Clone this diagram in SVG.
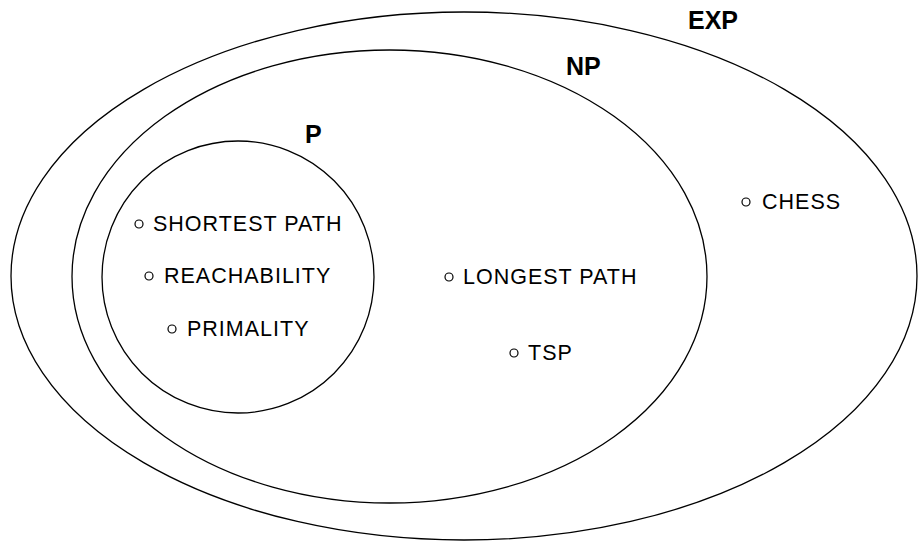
<svg xmlns="http://www.w3.org/2000/svg" width="918" height="541" viewBox="0 0 918 541">
  <style>
    .set { fill: none; stroke: #000; stroke-width: 1.3; }
    .dot { fill: none; stroke: #000; stroke-width: 1.2; }
    .item { font-family: "Liberation Sans", Arial, sans-serif; font-size: 21.5px; letter-spacing: 1px; fill: #000; }
    .cls { font-family: "Liberation Sans", Arial, sans-serif; font-size: 25px; font-weight: bold; fill: #000; }
  </style>
  <rect width="918" height="541" fill="#fff"/>

  <!-- complexity classes, nested -->
  <g id="exp">
    <ellipse class="set" cx="464" cy="276" rx="453" ry="264"/>
    <text class="cls" x="688" y="29">EXP</text>
  </g>
  <g id="np">
    <ellipse class="set" cx="389.5" cy="276.5" rx="317.5" ry="226.5"/>
    <text class="cls" x="566" y="75">NP</text>
  </g>
  <g id="p">
    <circle class="set" cx="238" cy="277" r="136"/>
    <text class="cls" x="305" y="143">P</text>
  </g>

  <!-- problems -->
  <g id="shortest-path">
    <circle class="dot" cx="139" cy="224" r="4"/>
    <text class="item" x="153" y="231">SHORTEST PATH</text>
  </g>
  <g id="reachability">
    <circle class="dot" cx="149" cy="276" r="4"/>
    <text class="item" x="164" y="283">REACHABILITY</text>
  </g>
  <g id="primality">
    <circle class="dot" cx="172" cy="329" r="4"/>
    <text class="item" x="187" y="336">PRIMALITY</text>
  </g>
  <g id="longest-path">
    <circle class="dot" cx="449" cy="277" r="4"/>
    <text class="item" x="463" y="284">LONGEST PATH</text>
  </g>
  <g id="tsp">
    <circle class="dot" cx="514" cy="353" r="4"/>
    <text class="item" x="528" y="360">TSP</text>
  </g>
  <g id="chess">
    <circle class="dot" cx="746" cy="202" r="4"/>
    <text class="item" x="762" y="209">CHESS</text>
  </g>

  <g id="connectors"/>
</svg>
